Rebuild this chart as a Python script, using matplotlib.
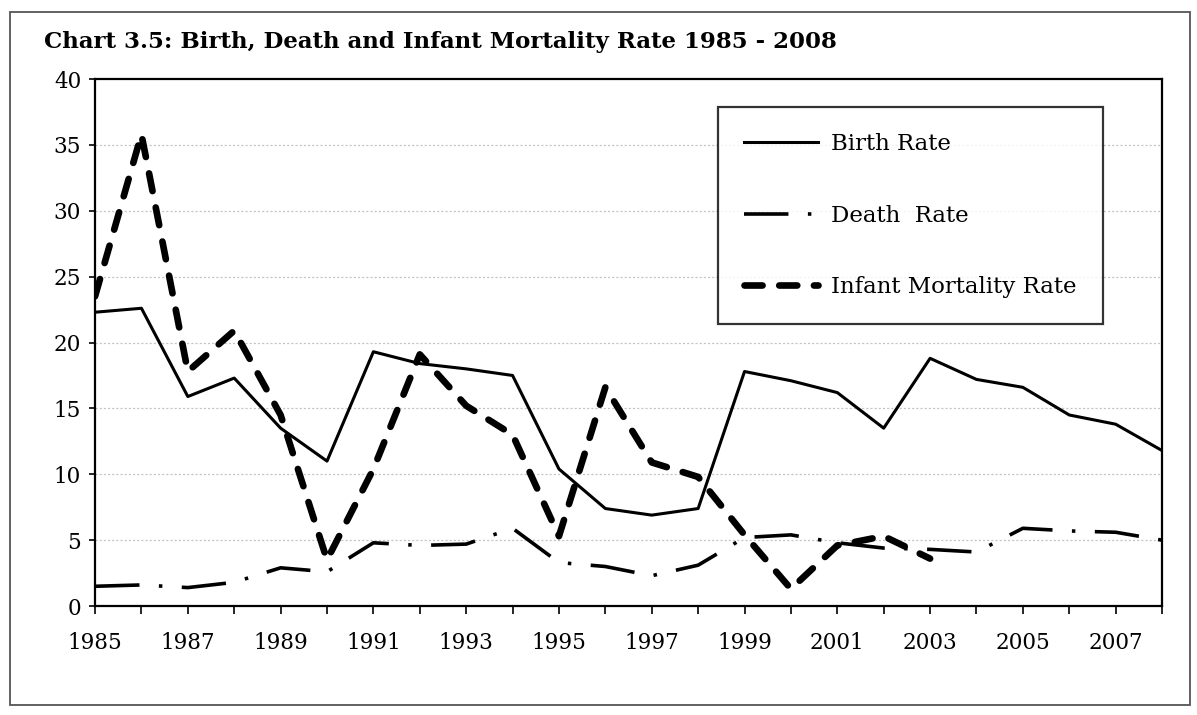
import matplotlib
import matplotlib.pyplot as plt
from matplotlib.patches import Rectangle

matplotlib.use("Agg")

# values
years = list(range(1985, 2009))
birth_rate = [22.3, 22.6, 15.9, 17.3, 13.5, 11.0, 19.3, 18.4, 18.0, 17.5, 10.4, 7.4,
              6.9, 7.4, 17.8, 17.1, 16.2, 13.5, 18.8, 17.2, 16.6, 14.5, 13.8, 11.8]
death_rate = [1.5, 1.6, 1.4, 1.8, 2.9, 2.6, 4.8, 4.6, 4.7, 5.9, 3.3, 3.0,
              2.3, 3.1, 5.2, 5.4, 4.8, 4.4, 4.3, 4.1, 5.9, 5.7, 5.6, 5.0]
imr_years = list(range(1985, 2004))
infant_mortality = [23.5, 35.8, 17.8, 20.9, 14.5, 3.5, 10.4, 19.1, 15.2, 13.0,
                    5.3, 16.6, 10.9, 9.8, 5.4, 1.3, 4.6, 5.3, 3.6]
year_labels = [str(y) if y % 2 == 1 else "" for y in years]
y_ticks = [0, 5, 10, 15, 20, 25, 30, 35, 40]

plt.rcParams["font.family"] = ["DejaVu Serif"]
plt.rcParams["lines.scale_dashes"] = False

fig = plt.figure(figsize=(11.97, 7.15), dpi=100)
ax = fig.add_axes([0.0794, 0.1524, 0.8914, 0.7371])

ax.plot(years, birth_rate, color="black", lw=2.2, label="Birth Rate")
ax.plot(years, death_rate, color="black", lw=2.6, dashes=(32, 14, 2.5, 14),
        label="Death  Rate")
ax.plot(imr_years, infant_mortality, color="black", lw=4.8, dashes=(13, 12),
        dash_capstyle="round", label="Infant Mortality Rate")

ax.set_xlim(1985, 2008)
ax.set_ylim(0, 40)
ax.set_xticks(years)
ax.set_xticklabels(year_labels)
ax.set_yticks(y_ticks)
ax.tick_params(axis="x", direction="out", length=6, width=1.2, pad=13, labelsize=15.5)
ax.tick_params(axis="y", direction="out", length=4, width=1.2, pad=6, labelsize=15.5)
for s in ax.spines.values():
    s.set_linewidth(1.6)

# faint dotted grid as in the print
for v in y_ticks[1:-1]:
    ax.axhline(v, color="#c4c4c4", lw=0.9, ls=(0, (1.5, 1.5)), zorder=0)

leg = ax.legend(loc="upper left", bbox_to_anchor=(718 / 1197, 1 - 107 / 715),
                bbox_transform=fig.transFigure, fontsize=16.5, frameon=True,
                fancybox=False, borderpad=1.15, borderaxespad=0, labelspacing=2.15,
                handlelength=3.2, handletextpad=0.6)
leg.get_frame().set_edgecolor("black")
leg.get_frame().set_linewidth(1.6)

fig.text(44 / 1197, 1 - 42 / 715, "Chart 3.5: Birth, Death and Infant Mortality Rate 1985 - 2008",
         fontsize=16.5, fontweight="bold", va="center", ha="left")

# outer frame of the scanned page
fig.patches.append(Rectangle((10 / 1197, 1 - 705 / 715), 1180 / 1197, 693 / 715,
                             transform=fig.transFigure, fill=False,
                             edgecolor="#555555", lw=1.3))

fig.savefig("out.png", dpi=100, facecolor="white")
